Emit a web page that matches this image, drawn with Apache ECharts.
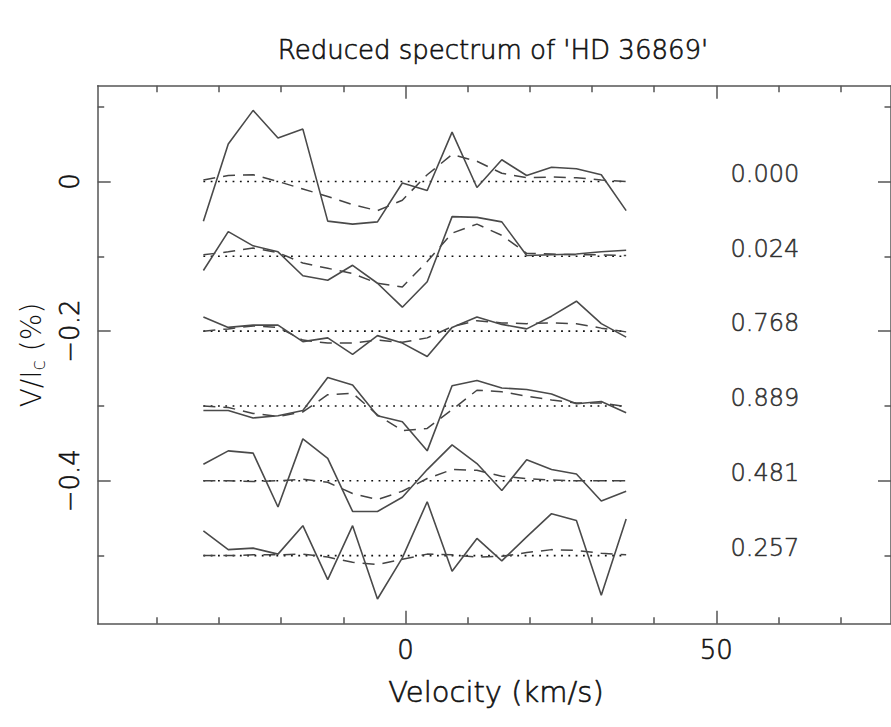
<!DOCTYPE html>
<html>
<head>
<meta charset="utf-8">
<script src="https://cdn.jsdelivr.net/npm/echarts@6/dist/echarts.min.js"></script>
<style>
  html, body { margin: 0; padding: 0; background: #fff; }
  #chart { width: 891px; height: 727px; }
</style>
</head>
<body>
<div id="chart"></div>
<script>
// ---------------- data ----------------
const velocity = [-32.5, -28.5, -24.5, -20.5, -16.5, -12.5, -8.5, -4.5, -0.5, 3.5, 7.5, 11.5, 15.5, 19.5, 23.5, 27.5, 31.5, 35.5];

const phaseLabels = ['0.000', '0.024', '0.768', '0.889', '0.481', '0.257'];
const offsets = [0, -0.1, -0.2, -0.3, -0.4, -0.5];

const obs000 = [-0.053, 0.050, 0.095, 0.058, 0.070, -0.053, -0.057, -0.054, -0.002, -0.012, 0.066, -0.008, 0.029, 0.008, 0.019, 0.017, 0.009, -0.039];
const fit000 = [0.002, 0.008, 0.009, 0.000, -0.010, -0.020, -0.031, -0.039, -0.025, 0.009, 0.036, 0.027, 0.011, 0.005, 0.006, 0.005, 0.002, 0.000];

const obs024 = [-0.119, -0.067, -0.086, -0.094, -0.126, -0.132, -0.112, -0.136, -0.168, -0.134, -0.047, -0.048, -0.054, -0.099, -0.098, -0.097, -0.094, -0.092];
const fit024 = [-0.098, -0.094, -0.089, -0.095, -0.109, -0.116, -0.123, -0.136, -0.141, -0.107, -0.069, -0.057, -0.072, -0.096, -0.097, -0.098, -0.098, -0.099];

const obs768 = [-0.181, -0.195, -0.192, -0.192, -0.214, -0.209, -0.231, -0.206, -0.216, -0.234, -0.195, -0.181, -0.191, -0.197, -0.180, -0.160, -0.190, -0.208];
const fit768 = [-0.200, -0.197, -0.193, -0.195, -0.212, -0.216, -0.216, -0.212, -0.215, -0.209, -0.194, -0.186, -0.189, -0.190, -0.189, -0.190, -0.196, -0.201];

const obs889 = [-0.306, -0.306, -0.316, -0.313, -0.306, -0.262, -0.272, -0.313, -0.321, -0.360, -0.273, -0.266, -0.276, -0.278, -0.284, -0.297, -0.294, -0.309];
const fit889 = [-0.300, -0.302, -0.310, -0.314, -0.308, -0.285, -0.283, -0.312, -0.333, -0.330, -0.305, -0.279, -0.281, -0.287, -0.292, -0.296, -0.296, -0.301];

const obs481 = [-0.378, -0.360, -0.363, -0.435, -0.344, -0.370, -0.441, -0.441, -0.422, -0.385, -0.352, -0.377, -0.413, -0.372, -0.385, -0.391, -0.427, -0.414];
const fit481 = [-0.400, -0.400, -0.401, -0.400, -0.398, -0.402, -0.417, -0.425, -0.414, -0.397, -0.385, -0.386, -0.394, -0.397, -0.399, -0.400, -0.400, -0.400];

const obs257 = [-0.467, -0.492, -0.490, -0.498, -0.460, -0.532, -0.460, -0.558, -0.503, -0.428, -0.521, -0.477, -0.507, -0.475, -0.444, -0.453, -0.553, -0.451];
const fit257 = [-0.500, -0.500, -0.499, -0.499, -0.498, -0.502, -0.509, -0.512, -0.505, -0.498, -0.499, -0.502, -0.501, -0.496, -0.492, -0.493, -0.497, -0.499];

const xMajorTicks = [0, 50];
const xMinorTicks = [-40, -30, -20, -10, 10, 20, 30, 40, 60, 70];
const yMajorTicks = [0, -0.2, -0.4];
const yMinorTicks = [0.1, -0.1, -0.3, -0.5];
const labelVelocity = 52.3;

// ---------------- chart ----------------
const observed = [obs000, obs024, obs768, obs889, obs481, obs257];
const fitted = [fit000, fit024, fit768, fit889, fit481, fit257];

const XMIN = -49.5, XMAX = 78.1;
const YMIN = -0.591, YMAX = 0.128;
const FONT = '"DejaVu Sans", "Liberation Sans", sans-serif';
const FW = 300;
const TXT = '#111';
const TB = 0.6;
const AXC = '#555';

const chart = echarts.init(document.getElementById('chart'), null, { renderer: 'svg' });

function pair(arr) { return velocity.map((v, i) => [v, arr[i]]); }

const series = [];
offsets.forEach((off, k) => {
  series.push({
    type: 'line', silent: true, symbol: 'none', animation: false,
    data: [[velocity[0], off], [velocity[velocity.length - 1], off]],
    lineStyle: { color: '#111', width: 1.6, type: [1.8, 5.5] }
  });
  series.push({
    type: 'line', silent: true, symbol: 'none', animation: false,
    data: pair(fitted[k]),
    lineStyle: { color: '#444', width: 1.5, type: [12, 8] }
  });
  series.push({
    type: 'line', silent: true, symbol: 'none', animation: false,
    data: pair(observed[k]),
    lineStyle: { color: '#4a4a4a', width: 1.6 }
  });
});
series.push({
  type: 'scatter', silent: true, animation: false, symbolSize: 0,
  data: offsets.map((off, k) => [labelVelocity, off + 0.0103, phaseLabels[k]]),
  label: {
    show: true, position: 'inside', align: 'left', verticalAlign: 'middle',
    formatter: p => p.value[2],
    fontFamily: FONT, fontWeight: FW, fontSize: 24, color: TXT,
    textBorderColor: TXT, textBorderWidth: TB
  }
});

function xAxisDef(position, ticks, len, showLabel, showLine) {
  return {
    type: 'value', min: XMIN, max: XMAX, position: position,
    axisLine: { show: showLine, onZero: false, lineStyle: { color: AXC, width: 1.5 } },
    axisTick: { show: true, inside: true, length: len, customValues: ticks, lineStyle: { color: AXC, width: 1.5 } },
    axisLabel: showLabel ? {
      show: true, customValues: ticks, margin: 13,
      formatter: v => String(v), fontFamily: FONT, fontWeight: FW, fontSize: 26, color: TXT,
      textBorderColor: TXT, textBorderWidth: TB
    } : { show: false },
    splitLine: { show: false }
  };
}
function yAxisDef(position, ticks, len, showLabel, showLine) {
  return {
    type: 'value', min: YMIN, max: YMAX, position: position,
    axisLine: { show: showLine, onZero: false, lineStyle: { color: AXC, width: 1.5 } },
    axisTick: { show: true, inside: true, length: len, customValues: ticks, lineStyle: { color: AXC, width: 1.5 } },
    axisLabel: showLabel ? {
      show: true, customValues: ticks, rotate: 90, margin: 15,
      formatter: v => (Math.abs(v) < 1e-9 ? '0' : (v < 0 ? '\u2212' : '') + Math.abs(v).toFixed(1)),
      fontFamily: FONT, fontWeight: FW, fontSize: 26, color: TXT,
      textBorderColor: TXT, textBorderWidth: TB
    } : { show: false },
    splitLine: { show: false }
  };
}

chart.setOption({
  animation: false,
  backgroundColor: '#fff',
  grid: { left: 97.7, top: 85.7, width: 794.5, height: 538, containLabel: false },
  xAxis: [
    xAxisDef('bottom', xMajorTicks, 13, true, true),
    xAxisDef('top', xMajorTicks, 13, false, true),
    xAxisDef('bottom', xMinorTicks, 6.5, false, false),
    xAxisDef('top', xMinorTicks, 6.5, false, false)
  ],
  yAxis: [
    yAxisDef('left', yMajorTicks, 13, true, true),
    yAxisDef('right', yMajorTicks, 13, false, true),
    yAxisDef('left', yMinorTicks, 6.5, false, false),
    yAxisDef('right', yMinorTicks, 6.5, false, false)
  ],
  graphic: [
    { type: 'text', x: 493, y: 50, style: { text: "Reduced spectrum of 'HD 36869'", fontFamily: FONT, fontWeight: FW, fontSize: 26, fill: TXT, stroke: TXT, lineWidth: TB, align: 'center', verticalAlign: 'middle' } },
    { type: 'text', x: 496, y: 692, style: { text: 'Velocity (km/s)', fontFamily: FONT, fontWeight: FW, fontSize: 29, fill: TXT, stroke: TXT, lineWidth: TB, align: 'center', verticalAlign: 'middle' } },
    { type: 'text', x: 31, y: 355, rotation: Math.PI / 2,
      style: {
        text: '{a|V/I}{s|c}{a| (%)}', align: 'center', verticalAlign: 'middle',
        rich: {
          a: { fontFamily: FONT, fontWeight: FW, fontSize: 28, fill: TXT },
          s: { fontFamily: FONT, fontWeight: FW, fontSize: 19, fill: TXT, padding: [14, 0, 0, 0] }
        }
      } }
  ],
  series: series
});
</script>
</body>
</html>
